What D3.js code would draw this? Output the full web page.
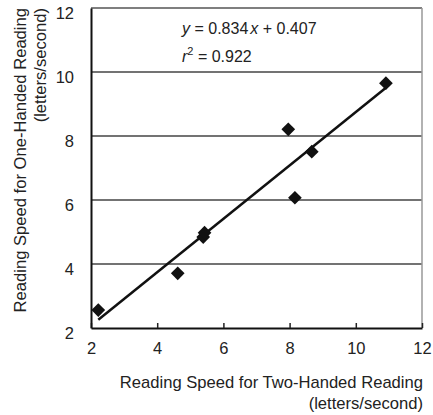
<!DOCTYPE html>
<html lang="en">
<head>
<meta charset="UTF-8">
<title>Reading speed</title>
<script src="https://d3js.org/d3.v7.min.js"></script>
<style>
  body { margin: 0; background: #fff; }
  text { font-family: "Liberation Sans", Arial, sans-serif; fill: #222; }
</style>
</head>
<body>
<svg width="433" height="415"></svg>
<script>
// data
const twoHanded = [2.22, 4.62, 5.39, 5.43, 7.96, 8.16, 8.67, 10.91];
const oneHanded = [2.56, 3.71, 4.84, 4.98, 8.21, 6.07, 7.51, 9.65];
const slope = 0.834, intercept = 0.407, r2 = 0.922;
const xTicks = [2, 4, 6, 8, 10, 12];
const yTicks = [2, 4, 6, 8, 10, 12];

const svg = d3.select("svg");
const plotL = 91, plotR = 422, plotT = 8, plotB = 328;

let x = d3.scaleLinear().domain([2, 12]).range([plotL, plotR]);
let y = d3.scaleLinear().domain([2, 12]).range([plotB, plotT]);

// horizontal grid
svg.append("g")
    .selectAll("line")
    .data(yTicks.filter(d => d > 2 && d < 12))
    .enter().append("line")
    .attr("x1", plotL).attr("x2", plotR)
    .attr("y1", d => y(d)).attr("y2", d => y(d))
    .attr("stroke", "#444").attr("stroke-width", 1.5);

// frame top / right
svg.append("line").attr("x1", plotL).attr("x2", plotR).attr("y1", plotT).attr("y2", plotT)
    .attr("stroke", "#555").attr("stroke-width", 1.5);
svg.append("line").attr("x1", plotR).attr("x2", plotR).attr("y1", plotT).attr("y2", plotB)
    .attr("stroke", "#999").attr("stroke-width", 1.5);

// x axis, ticks pointing in
let xAxis = d3.axisBottom(x).tickValues(xTicks).tickSizeInner(-5).tickSizeOuter(0).tickPadding(14);
let gx = svg.append("g").attr("transform", `translate(0,${plotB})`).call(xAxis);
gx.select(".domain").attr("stroke", "#111").attr("stroke-width", 2);
gx.selectAll(".tick line").attr("stroke", "#222").attr("stroke-width", 1.5);
gx.selectAll(".tick text").attr("font-size", 16.5).attr("font-family", null).attr("fill", "#222");

// y axis, no ticks
let yAxis = d3.axisLeft(y).tickValues(yTicks).tickSize(0).tickPadding(17);
let gy = svg.append("g").attr("transform", `translate(${plotL},0)`).call(yAxis);
gy.select(".domain").attr("stroke", "#111").attr("stroke-width", 2);
gy.selectAll(".tick text").attr("font-size", 16.5).attr("font-family", null)
    .attr("fill", "#222").attr("dy", "0.65em");

// regression line
let ext = d3.extent(twoHanded);
svg.append("path")
    .datum(ext)
    .attr("d", d3.line().x(d => x(d)).y(d => y(slope * d + intercept)))
    .attr("stroke", "#111").attr("stroke-width", 2.5).attr("fill", "none");

// points
svg.append("g")
    .selectAll("path")
    .data(twoHanded.map((d, i) => [d, oneHanded[i]]))
    .enter().append("path")
    .attr("transform", d => `translate(${x(d[0])},${y(d[1])})`)
    .attr("d", d3.symbol().type(d3.symbolDiamond2).size(120))
    .attr("fill", "#111");

// equation
let eq = svg.append("text").attr("x", 182).attr("y", 34).attr("font-size", 16);
eq.append("tspan").attr("font-style", "italic").text("y");
eq.append("tspan").text(" = " + slope);
eq.append("tspan").attr("font-style", "italic").attr("dx", 2).text("x");
eq.append("tspan").text(" + " + intercept);

let eq2 = svg.append("text").attr("x", 182).attr("y", 62).attr("font-size", 16);
eq2.append("tspan").attr("font-style", "italic").text("r");
eq2.append("tspan").attr("font-size", 11).attr("dy", -7).text("2");
eq2.append("tspan").attr("dy", 7).text(" = " + r2);

// axis titles
svg.append("text").attr("x", plotR + 1).attr("y", 388).attr("text-anchor", "end")
    .attr("font-size", 16.6).text("Reading Speed for Two-Handed Reading");
svg.append("text").attr("x", plotR + 1).attr("y", 409).attr("text-anchor", "end")
    .attr("font-size", 16.6).text("(letters/second)");

svg.append("text").attr("transform", `translate(26,${plotT}) rotate(-90)`).attr("text-anchor", "end")
    .attr("font-size", 16.6).text("Reading Speed for One-Handed Reading");
svg.append("text").attr("transform", `translate(46,${plotT}) rotate(-90)`).attr("text-anchor", "end")
    .attr("font-size", 16.6).text("(letters/second)");
</script>
</body>
</html>
